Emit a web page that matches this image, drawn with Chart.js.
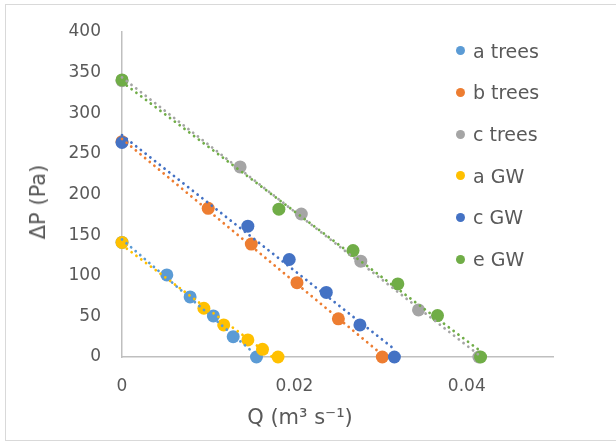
<!DOCTYPE html>
<html>
<head>
<meta charset="utf-8">
<script src="https://cdn.jsdelivr.net/npm/chart.js@4.4.1/dist/chart.umd.min.js"></script>
<style>
  html, body { margin: 0; padding: 0; background: #ffffff; }
  #wrap { position: relative; width: 616px; height: 444px; overflow: hidden; font-family: "DejaVu Sans", sans-serif; color: #595959; }
  #frame { position: absolute; left: 5px; top: 4px; width: 640px; height: 437px; border: 1px solid #D9D9D9; box-sizing: border-box; }
  canvas { position: absolute; left: 0; top: 0; }
  .ytitle { position: absolute; left: 38px; top: 202px; transform: translate(-50%, -50%) rotate(-90deg); font-size: 21px; white-space: nowrap; }
  .xtitle { position: absolute; left: 300px; top: 417px; transform: translate(-50%, -50%); font-size: 21px; white-space: nowrap; }
  .leg { position: absolute; left: 455px; font-size: 19px; white-space: nowrap; line-height: 1; }
  .leg span.dot { position: absolute; left: 1px; top: 50%; width: 9px; height: 9px; margin-top: -4.5px; border-radius: 50%; }
  .leg span.txt { position: absolute; left: 18px; top: 50%; transform: translateY(-50%); }
</style>
</head>
<body>
<div id="wrap">
  <div id="frame"></div>
  <canvas id="c" width="616" height="444"></canvas>
  <div class="ytitle">ΔP (Pa)</div>
  <div class="xtitle">Q (m³ s⁻¹)</div>
  <div id="legend"></div>
</div>
<script>
// ---- data ----
const seriesNames = ["a trees", "b trees", "c trees", "a GW", "c GW", "e GW"];
const seriesColors = ["#5B9BD5", "#ED7D31", "#A5A5A5", "#FFC000", "#4472C4", "#70AD47"];

const aTreesQ = [0, 0.0052, 0.0079, 0.0106, 0.0129, 0.0156];
const aTreesP = [141, 101, 74, 50.5, 25, 0];
const bTreesQ = [0, 0.0100, 0.0150, 0.0203, 0.0251, 0.0302];
const bTreesP = [265, 183, 139, 91.5, 47, 0];
const cTreesQ = [0, 0.0137, 0.0208, 0.0277, 0.0344, 0.0414];
const cTreesP = [340, 234, 176, 118, 58, 0];
const aGwQ = [0, 0.0095, 0.0118, 0.0146, 0.0163, 0.0181];
const aGwP = [141, 60, 39.5, 21, 9.5, 0];
const cGwQ = [0, 0.0146, 0.0194, 0.0237, 0.0276, 0.0316];
const cGwP = [264, 161, 120, 79.5, 39.5, 0];
const eGwQ = [0, 0.0182, 0.0268, 0.0320, 0.0366, 0.0416];
const eGwP = [341, 182, 131, 90, 51, 0];

const xTicks = [0, 0.02, 0.04];
const yTicks = [0, 50, 100, 150, 200, 250, 300, 350, 400];

const seriesQ = [aTreesQ, bTreesQ, cTreesQ, aGwQ, cGwQ, eGwQ];
const seriesP = [aTreesP, bTreesP, cTreesP, aGwP, cGwP, eGwP];

// linear least-squares trendline (like the spreadsheet's linear trendline), spanning min..max Q
function linearTrend(xs, ys) {
  const n = xs.length;
  let sx = 0, sy = 0;
  for (let i = 0; i < n; i++) { sx += xs[i]; sy += ys[i]; }
  const mx = sx / n, my = sy / n;
  let sxx = 0, sxy = 0;
  for (let i = 0; i < n; i++) { sxx += (xs[i] - mx) * (xs[i] - mx); sxy += (xs[i] - mx) * (ys[i] - my); }
  const b = sxy / sxx, a = my - b * mx;
  const x0 = Math.min(...xs), x1 = Math.max(...xs);
  return [{ x: x0, y: a + b * x0 }, { x: x1, y: a + b * x1 }];
}

const datasets = [];
// points: later series drawn on top (lower order = on top)
seriesNames.forEach((name, i) => {
  datasets.push({
    label: name,
    data: seriesQ[i].map((q, k) => ({ x: q, y: seriesP[i][k] })),
    backgroundColor: seriesColors[i],
    borderColor: seriesColors[i],
    pointRadius: 6.5,
    pointBorderWidth: 0,
    showLine: false,
    clip: false,
    order: 10 - i
  });
});
// dotted trendlines on top of markers
seriesNames.forEach((name, i) => {
  datasets.push({
    label: name + " trend",
    data: linearTrend(seriesQ[i], seriesP[i]),
    borderColor: seriesColors[i],
    backgroundColor: seriesColors[i],
    borderWidth: 2.8,
    borderDash: [0.01, 6],
    borderCapStyle: "round",
    pointRadius: 0,
    showLine: true,
    fill: false,
    clip: false,
    order: 0
  });
});

const tickFont = { family: "DejaVu Sans", size: 17 };

new Chart(document.getElementById("c"), {
  type: "scatter",
  data: { datasets },
  options: {
    responsive: false,
    animation: false,
    events: [],
    layout: { padding: { left: 0, top: 32, right: 63, bottom: 0 } },
    plugins: { legend: { display: false }, tooltip: { enabled: false }, title: { display: false } },
    scales: {
      x: {
        type: "linear",
        min: 0, max: 0.05,
        afterBuildTicks: (s) => { s.ticks = xTicks.map(v => ({ value: v })); },
        afterFit: (s) => { s.height = 87; },
        grid: { display: false, drawTicks: false },
        border: { display: true, color: "#BFBFBF", width: 1.5 },
        ticks: { color: "#595959", font: tickFont, padding: 19, maxRotation: 0, callback: (v) => String(v) }
      },
      y: {
        type: "linear",
        min: 0, max: 400,
        afterBuildTicks: (s) => { s.ticks = yTicks.map(v => ({ value: v })); },
        afterFit: (s) => { s.width = 122; },
        grid: { display: false, drawTicks: false },
        border: { display: true, color: "#BFBFBF", width: 1.5 },
        ticks: { color: "#595959", font: tickFont, padding: 21, callback: (v) => String(v) }
      }
    }
  }
});

// legend (real text)
const leg = document.getElementById("legend");
seriesNames.forEach((name, i) => {
  const d = document.createElement("div");
  d.className = "leg";
  d.style.top = (50.7 + i * 41.67 - 10) + "px";
  d.style.height = "20px";
  d.innerHTML = '<span class="dot" style="background:' + seriesColors[i] + '"></span><span class="txt">' + name + '</span>';
  leg.appendChild(d);
});
</script>
</body>
</html>
